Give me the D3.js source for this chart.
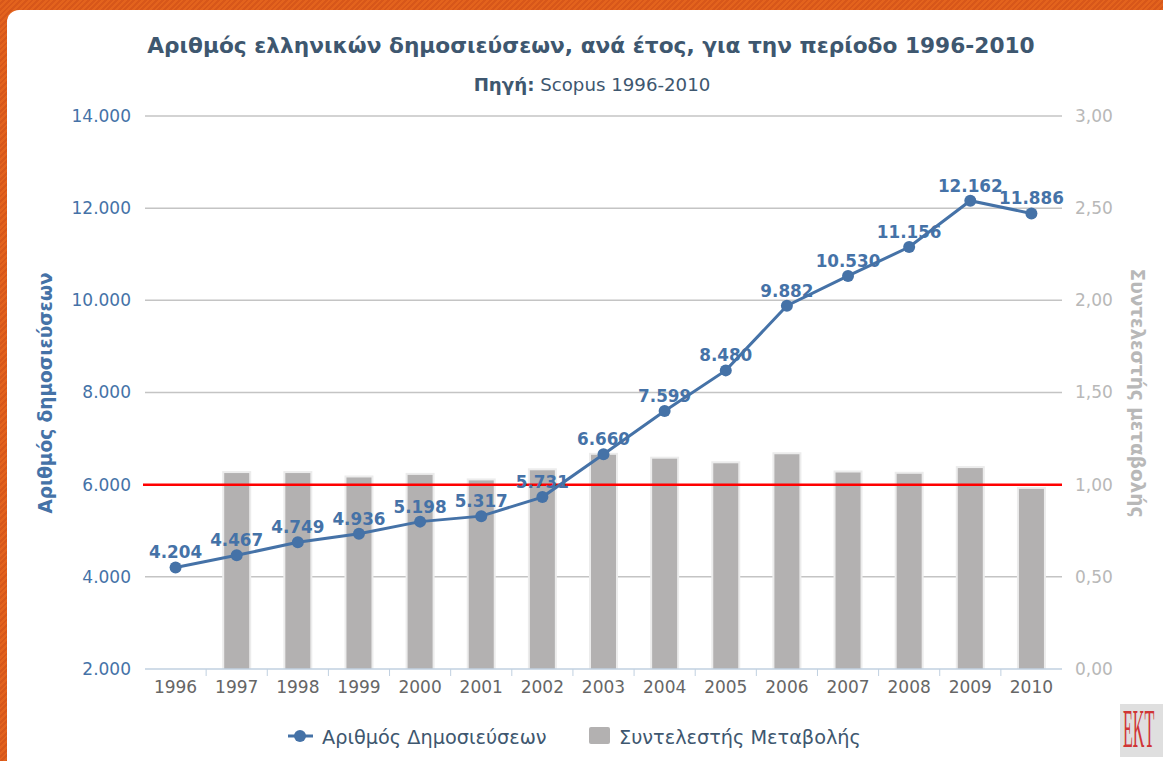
<!DOCTYPE html>
<html>
<head>
<meta charset="utf-8">
<script src="https://cdnjs.cloudflare.com/ajax/libs/d3/7.8.5/d3.min.js"></script>
<style>
  html, body { margin: 0; padding: 0; }
  body {
    width: 1163px; height: 761px; overflow: hidden;
    background: repeating-linear-gradient(135deg, #e3631d 0px, #e3631d 2px, #d7571a 2px, #d7571a 4px);
    font-family: "DejaVu Sans", Verdana, sans-serif;
  }
  .panel {
    position: absolute; left: 7px; top: 10px; width: 1170px; height: 760px;
    background: #fff; border-top-left-radius: 12px;
  }
  svg { position: absolute; left: 0; top: 0; }
</style>
</head>
<body>
<div class="panel"></div>
<div class="canvas"></div>
<script>
const years = ['1996','1997','1998','1999','2000','2001','2002','2003','2004','2005','2006','2007','2008','2009','2010'];
const pubs = [4204, 4467, 4749, 4936, 5198, 5317, 5731, 6660, 7599, 8480, 9882, 10530, 11156, 12162, 11886];
// συντελεστής μεταβολής (no bar for 1996)
const ratio = [null, 1.063, 1.063, 1.039, 1.053, 1.023, 1.078, 1.162, 1.141, 1.116, 1.165, 1.066, 1.059, 1.090, 0.977];
const leftTicks = [2000, 4000, 6000, 8000, 10000, 12000, 14000];
const rightTicks = [0, 0.5, 1, 1.5, 2, 2.5, 3];

const dims = { left: 145, right: 1062, top: 116, bottom: 669 };
const blue = '#4572a7';

const svg = d3.select('.canvas')
    .append('svg')
    .attr('width', 1163)
    .attr('height', 761);

const x = d3.scaleBand()
    .domain(years)
    .range([dims.left, dims.right]);

const yL = d3.scaleLinear().domain([2000, 14000]).range([dims.bottom, dims.top]);
const yR = d3.scaleLinear().domain([0, 3]).range([dims.bottom, dims.top]);

const fmtL = d => d3.format(',')(d).replace(/,/g, '.');
const fmtR = d => d3.format('.2f')(d).replace('.', ',');

// title
svg.append('text')
    .attr('x', 591).attr('y', 53)
    .attr('text-anchor', 'middle')
    .attr('font-size', 21.7).attr('font-weight', 'bold')
    .attr('fill', '#3e576f')
    .text('Αριθμός ελληνικών δημοσιεύσεων, ανά έτος, για την περίοδο 1996-2010');

const sub = svg.append('text')
    .attr('x', 592).attr('y', 91)
    .attr('text-anchor', 'middle')
    .attr('font-size', 18.2)
    .attr('fill', '#3e576f');
sub.append('tspan').attr('font-weight', 'bold').text('Πηγή:');
sub.append('tspan').text('  Scopus 1996-2010');

// gridlines
svg.append('g')
    .selectAll('line')
    .data(leftTicks.slice(1))
    .enter().append('line')
    .attr('x1', dims.left).attr('x2', dims.right)
    .attr('y1', d => yL(d)).attr('y2', d => yL(d))
    .attr('stroke', '#c4c4c4').attr('stroke-width', 1.5);

// left axis labels
const axisL = svg.append('g')
    .attr('transform', `translate(${dims.left - 14},0)`)
    .call(d3.axisLeft(yL).tickValues(leftTicks).tickFormat(fmtL).tickSize(0).tickPadding(0));
axisL.select('.domain').remove();
axisL.selectAll('text')
    .attr('font-family', '"DejaVu Sans", sans-serif')
    .attr('font-size', 17).attr('fill', blue);

// right axis labels
const axisR = svg.append('g')
    .attr('transform', `translate(${dims.right + 13},0)`)
    .call(d3.axisRight(yR).tickValues(rightTicks).tickFormat(fmtR).tickSize(0).tickPadding(0));
axisR.select('.domain').remove();
axisR.selectAll('text')
    .attr('font-family', '"DejaVu Sans", sans-serif')
    .attr('font-size', 17).attr('fill', '#b8b8b8');

// axis titles
svg.append('text')
    .attr('transform', `translate(52,393) rotate(-90)`)
    .attr('text-anchor', 'middle')
    .attr('font-size', 18.5).attr('font-weight', 'bold')
    .attr('fill', blue)
    .text('Αριθμός δημοσιεύσεων');

svg.append('text')
    .attr('transform', `translate(1131,393) rotate(90)`)
    .attr('text-anchor', 'middle')
    .attr('font-size', 18.5).attr('font-weight', 'bold')
    .attr('fill', '#b8b8b8')
    .text('Συντελεστής μεταβολής');

// bars
const barW = 25;
const bars = svg.append('g')
    .selectAll('rect')
    .data(years.map((y, i) => ({ year: y, v: ratio[i] })).filter(d => d.v !== null))
    .enter();

bars.append('rect')
    .attr('x', d => x(d.year) + x.bandwidth() / 2 - barW / 2 - 2)
    .attr('y', d => yR(d.v) - 2)
    .attr('width', barW + 4)
    .attr('height', d => yR(0) - yR(d.v) + 2)
    .attr('fill', '#ececec');

bars.append('rect')
    .attr('x', d => x(d.year) + x.bandwidth() / 2 - barW / 2)
    .attr('y', d => yR(d.v))
    .attr('width', barW)
    .attr('height', d => yR(0) - yR(d.v))
    .attr('fill', '#b3b1b1');

// x axis
svg.append('line')
    .attr('x1', dims.left).attr('x2', dims.right)
    .attr('y1', dims.bottom).attr('y2', dims.bottom)
    .attr('stroke', '#c0d0e0').attr('stroke-width', 1.5);

svg.append('g')
    .selectAll('line')
    .data(years.slice(1))
    .enter().append('line')
    .attr('x1', d => x(d)).attr('x2', d => x(d))
    .attr('y1', dims.bottom).attr('y2', dims.bottom + 7)
    .attr('stroke', '#c0d0e0').attr('stroke-width', 1);

svg.append('g')
    .selectAll('text')
    .data(years)
    .enter().append('text')
    .attr('x', d => x(d) + x.bandwidth() / 2)
    .attr('y', 693)
    .attr('text-anchor', 'middle')
    .attr('font-size', 17).attr('fill', '#666')
    .text(d => d);

// red reference line at 6.000 / 1,00
svg.append('line')
    .attr('x1', dims.left - 2).attr('x2', dims.right)
    .attr('y1', yL(6000)).attr('y2', yL(6000))
    .attr('stroke', '#ff0000').attr('stroke-width', 2.5);

// publication line
const line = d3.line()
    .x((d, i) => x(years[i]) + x.bandwidth() / 2)
    .y(d => yL(d));

svg.append('path')
    .datum(pubs)
    .attr('d', line)
    .attr('fill', 'none')
    .attr('stroke', blue)
    .attr('stroke-width', 3);

svg.append('g')
    .selectAll('circle')
    .data(pubs)
    .enter().append('circle')
    .attr('cx', (d, i) => x(years[i]) + x.bandwidth() / 2)
    .attr('cy', d => yL(d))
    .attr('r', 6)
    .attr('fill', blue);

svg.append('g')
    .selectAll('text')
    .data(pubs)
    .enter().append('text')
    .attr('x', (d, i) => x(years[i]) + x.bandwidth() / 2)
    .attr('y', d => yL(d) - 9)
    .attr('text-anchor', 'middle')
    .attr('font-size', 16.8).attr('font-weight', 'bold')
    .attr('fill', blue)
    .text(d => fmtL(d));

// legend
const legend = svg.append('g');
legend.append('line')
    .attr('x1', 288).attr('x2', 313).attr('y1', 736).attr('y2', 736)
    .attr('stroke', blue).attr('stroke-width', 3);
legend.append('circle')
    .attr('cx', 300).attr('cy', 736).attr('r', 6).attr('fill', blue);
legend.append('text')
    .attr('x', 322).attr('y', 744)
    .attr('font-size', 19.3).attr('fill', '#3e576f')
    .text('Αριθμός Δημοσιεύσεων');
legend.append('rect')
    .attr('x', 589).attr('y', 727).attr('width', 21).attr('height', 17)
    .attr('rx', 2)
    .attr('fill', '#b3b1b1');
legend.append('text')
    .attr('x', 619).attr('y', 744)
    .attr('font-size', 19.3).attr('fill', '#3e576f')
    .text('Συντελεστής Μεταβολής');

// EKT logo
svg.append('rect')
    .attr('x', 1120).attr('y', 704).attr('width', 43).attr('height', 53)
    .attr('fill', '#dfdfdf');
svg.append('g')
    .attr('transform', 'translate(1123,747) scale(0.85,2.9)')
    .append('text')
    .attr('font-family', '"Liberation Serif", serif')
    .attr('font-size', 19).attr('fill', '#d03535')
    .text('EKT');
</script>
</body>
</html>
